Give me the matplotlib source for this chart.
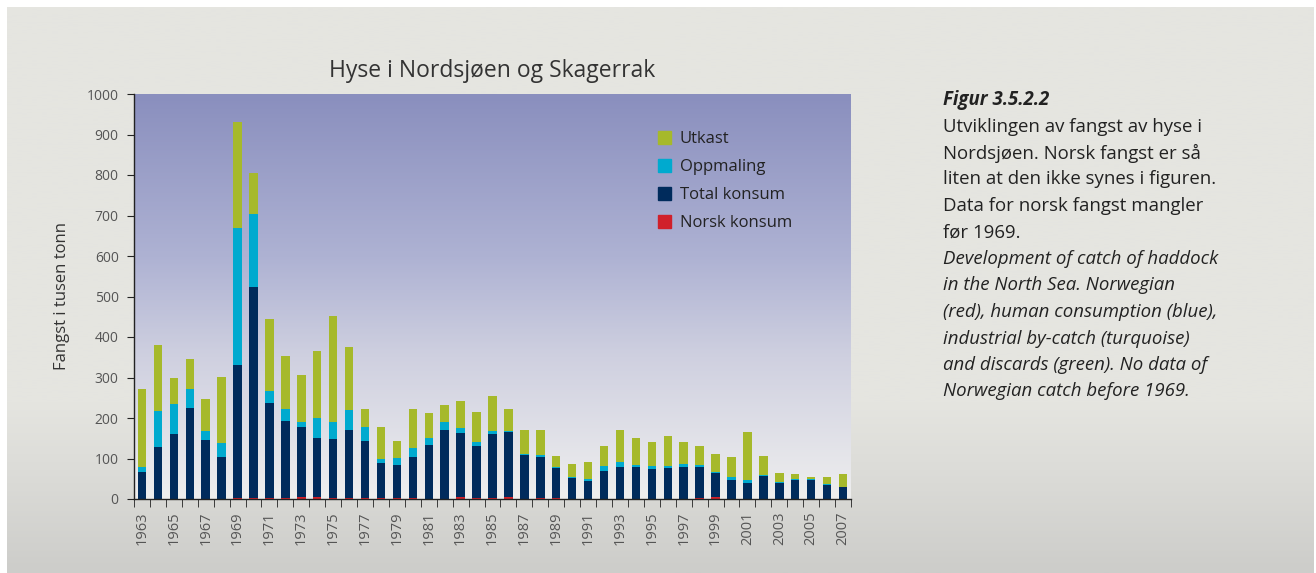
import numpy as np
import matplotlib.pyplot as plt
from matplotlib.colors import LinearSegmentedColormap
from matplotlib.patches import Patch

years = list(range(1963, 2008))

# top of the navy part (total konsum), thousand tonnes
konsum = [67, 129, 160, 225, 146, 104, 330, 524, 237, 193,
          179, 151, 149, 171, 144, 90, 85, 104, 134, 171,
          163, 132, 161, 165, 109, 104, 76, 52, 45, 69,
          79, 79, 75, 77, 79, 79, 63, 46, 40, 57,
          40, 47, 46, 35, 30]
oppmaling = [13, 89, 75, 47, 21, 34, 340, 180, 30, 30,
             12, 48, 42, 48, 35, 10, 17, 22, 17, 19,
             13, 9, 7, 4, 3, 5, 2, 2, 5, 12,
             12, 5, 7, 5, 8, 5, 4, 8, 8, 3,
             3, 2, 3, 2, 0]
utkast = [191, 162, 63, 73, 79, 163, 260, 102, 178, 129,
          115, 166, 262, 156, 44, 78, 41, 95, 61, 41,
          66, 75, 86, 52, 59, 61, 28, 33, 41, 49,
          80, 66, 59, 73, 53, 47, 44, 49, 117, 47,
          22, 13, 6, 17, 32]
norsk = [0, 0, 0, 0, 0, 0, 2, 2, 2, 2,
         6, 6, 2, 2, 2, 2, 2, 2, 1, 1,
         4, 3, 2, 4, 1, 2, 2, 1, 1, 1,
         1, 1, 1, 1, 1, 2, 4, 1, 1, 1,
         1, 1, 1, 1, 1]

c_utkast = '#a6b92b'
c_opp = '#00aacf'
c_kons = '#002b5c'
c_norsk = '#d0202a'

plt.rcParams['font.family'] = ['Open Sans', 'DejaVu Sans']

fig = plt.figure(figsize=(13.16, 5.73), dpi=100)
fig.patch.set_facecolor('white')

# grey panel behind everything
bg = fig.add_axes([7 / 1316, 0, 1 - 9 / 1316, 1 - 7 / 573], zorder=-2)
bg_cmap = LinearSegmentedColormap.from_list(
    'bg', [(0, '#cdcdca'), (0.18, '#dcdcd8'), (0.3, '#e5e5e0'), (1, '#e5e5e0')])
bg.imshow(np.linspace(0, 1, 200).reshape(-1, 1), aspect='auto', cmap=bg_cmap,
          origin='lower', extent=[0, 1, 0, 1])
bg.set_axis_off()

ax = fig.add_axes([134 / 1316, 74 / 573, 717 / 1316, 405 / 573])
ax.set_xlim(-0.5, len(years) - 0.5)
ax.set_ylim(0, 1000)

plot_cmap = LinearSegmentedColormap.from_list(
    'plot', [(0, '#eeeeee'), (0.35, '#cfd0e0'), (0.6, '#aeb2d3'), (1, '#8a8fbe')])
ax.imshow(np.linspace(0, 1, 200).reshape(-1, 1), aspect='auto', cmap=plot_cmap,
          origin='lower', extent=[-0.5, len(years) - 0.5, 0, 1000], zorder=0)

x = np.arange(len(years))
kons = np.array(konsum)
nor = np.array(norsk)
opp = np.array(oppmaling)
utk = np.array(utkast)
w = 0.53
ax.bar(x, nor, w, color=c_norsk, zorder=2)
ax.bar(x, kons - nor, w, bottom=nor, color=c_kons, zorder=2)
ax.bar(x, opp, w, bottom=kons, color=c_opp, zorder=2)
ax.bar(x, utk, w, bottom=kons + opp, color=c_utkast, zorder=2)

for s in ['top', 'right']:
    ax.spines[s].set_visible(False)
for s in ['left', 'bottom']:
    ax.spines[s].set_color('#222222')
    ax.spines[s].set_linewidth(1.0)
    ax.spines[s].set_zorder(3)

ax.set_yticks(range(0, 1001, 100))
ax.tick_params(axis='y', length=5, color='#222222', labelsize=10, labelcolor='#555555', pad=6)
ax.set_xticks(x[::2])
ax.set_xticklabels([str(y) for y in years[::2]], rotation=90)
ax.tick_params(axis='x', which='major', length=0, labelsize=10.5, labelcolor='#555555', pad=9)
ax.set_xticks(np.arange(-0.5, len(years), 1), minor=True)
ax.tick_params(axis='x', which='minor', length=6, color='#222222', direction='out')

ax.set_ylabel('Fangst i tusen tonn', fontsize=12, color='#333333', labelpad=12)
fig.text(492 / 1316, 1 - 71 / 573, 'Hyse i Nordsjøen og Skagerrak', fontsize=16.5,
         color='#333333', ha='center', va='center')

handles = [Patch(color=c_utkast, label='Utkast'),
           Patch(color=c_opp, label='Oppmaling'),
           Patch(color=c_kons, label='Total konsum'),
           Patch(color=c_norsk, label='Norsk konsum')]
ax.legend(handles=handles, loc='upper left', bbox_to_anchor=(0.71, 0.945), frameon=False,
          fontsize=12, handlelength=0.75, handleheight=0.75, handletextpad=0.55,
          labelspacing=0.72, labelcolor='#222222')

lines = [('Figur 3.5.2.2', 'bold', 'italic'),
         ('Utviklingen av fangst av hyse i', 'normal', 'normal'),
         ('Nordsjøen. Norsk fangst er så', 'normal', 'normal'),
         ('liten at den ikke synes i figuren.', 'normal', 'normal'),
         ('Data for norsk fangst mangler', 'normal', 'normal'),
         ('før 1969.', 'normal', 'normal'),
         ('Development of catch of haddock', 'normal', 'italic'),
         ('in the North Sea. Norwegian', 'normal', 'italic'),
         ('(red), human consumption (blue),', 'normal', 'italic'),
         ('industrial by-catch (turquoise)', 'normal', 'italic'),
         ('and discards (green). No data of', 'normal', 'italic'),
         ('Norwegian catch before 1969.', 'normal', 'italic')]
for i, (t, wgt, sty) in enumerate(lines):
    fig.text(943 / 1316, 1 - (100 + i * 26.5) / 573, t, fontsize=13.4, fontweight=wgt,
             fontstyle=sty, color='#222222', ha='left', va='center')

fig.savefig('out.png', dpi=100)
